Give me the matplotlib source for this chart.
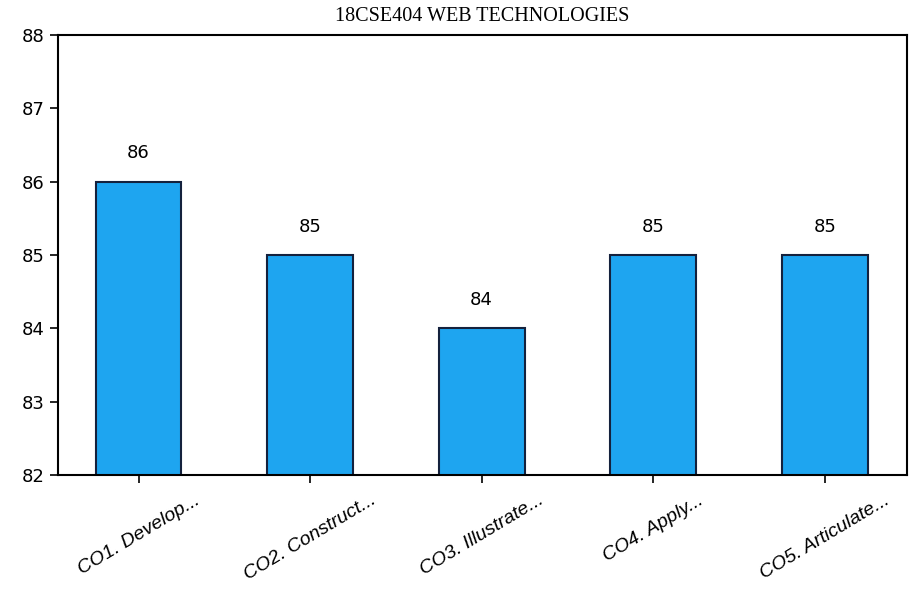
import matplotlib.pyplot as plt
import numpy as np

# course outcome attainment
labels = ['CO1. Develop...', 'CO2. Construct...', 'CO3. Illustrate...',
          'CO4. Apply...', 'CO5. Articulate...']
values = [86, 85, 84, 85, 85]
yticks = [82, 83, 84, 85, 86, 87, 88]

sans = ['DejaVu Sans']

fig = plt.figure(figsize=(9.13, 5.9), dpi=100)
ax = fig.add_axes([0.0635, 0.195, 0.93, 0.746])

x = np.arange(len(labels))
bars = ax.bar(x, values, width=0.5, color='#1ea5f0', edgecolor='#14213d', linewidth=1.5)

for xi, v in zip(x, values):
    ax.text(xi, v + 0.26, '%d' % v, ha='center', va='bottom', fontsize=13, family=sans)

ax.set_ylim(82, 88)
ax.set_xlim(-0.47, 4.48)
ax.set_yticks(yticks)
ax.set_yticklabels([str(t) for t in yticks], family=sans, fontsize=13)
ax.set_xticks(x)
ax.set_xticklabels(labels, rotation=31, ha='center', fontsize=14, style='italic',
                   family=['Liberation Sans', 'DejaVu Sans'])
ax.tick_params(axis='both', direction='out', length=6, width=1.2)
ax.tick_params(axis='x', pad=6)
for s in ax.spines.values():
    s.set_linewidth(1.5)

ax.set_title('18CSE404 WEB TECHNOLOGIES', family=['Liberation Serif', 'DejaVu Serif'],
             fontsize=14.5, pad=10)

fig.savefig('out.png', dpi=100)
